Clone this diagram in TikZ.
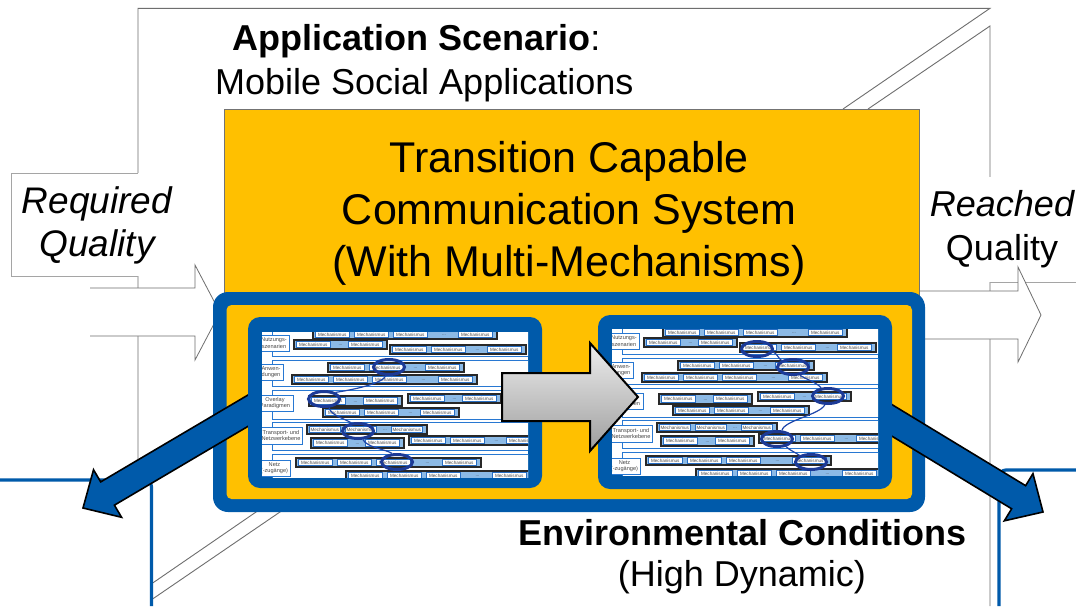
\documentclass[tikz,border=0pt]{standalone}
\usepackage{fontspec}
\setmainfont{Liberation Sans}
\usetikzlibrary{calc,shapes.geometric}

\definecolor{frameblue}{RGB}{0,90,170}
\definecolor{sysyellow}{RGB}{255,192,0}
\definecolor{ringblue}{RGB}{28,58,150}
\definecolor{linkblue}{RGB}{30,70,170}
\definecolor{cellblue}{RGB}{140,186,230}
\definecolor{cellline}{RGB}{40,110,195}
\definecolor{grpline}{RGB}{40,40,40}
\definecolor{bandline}{RGB}{40,120,210}
\definecolor{celltext}{RGB}{70,70,70}
\definecolor{backgray}{RGB}{110,110,110}
\definecolor{callgray}{RGB}{165,165,165}

\tikzset{
  backline/.style={draw=backgray, line width=0.9pt},
  calloutline/.style={draw=callgray, line width=0.8pt},
  arrowline/.style={draw=backgray, line width=0.8pt, line join=miter},
  thinblue/.style={draw=frameblue, line width=3.2pt},
  bigarrow/.style={fill=frameblue, draw=black, line width=1.6pt, line join=miter},
  grp/.style={fill=cellblue, draw=grpline, line width=1.2pt},
  mcell/.style={fill=white, draw=cellline, line width=0.6pt},
  mtext/.style={font=\fontsize{4.6}{5}\selectfont, text=celltext, inner sep=0pt},
  bandbox/.style={fill=white, draw=bandline, line width=0.9pt},
  lbox/.style={fill=white, draw=bandline, line width=0.9pt},
  ltext/.style={font=\fontsize{5.6}{6.6}\selectfont, text=celltext, align=center, inner sep=0pt},
  ring/.style={ellipse, draw=ringblue, line width=3pt, minimum width=31pt, minimum height=15pt, inner sep=0pt},
  link/.style={draw=linkblue, line width=1.2pt},
  grayarrow/.style={draw=black, line width=2pt, top color=white!93!black, bottom color=black!38, line join=miter},
  labeltext/.style={font=\fontsize{36}{43}\selectfont, inner sep=0pt},
  titletext/.style={font=\fontsize{43}{52}\selectfont, inner sep=0pt},
}

% one group of mechanism cells: x0, y0, y1, cell width, dots width, item list
\newcommand\mgrp[6]{%
  \xdef\gcur{\number\numexpr#1+2\relax}%
  \foreach \itm in {#6}{%
    \if\itm M\xdef\gcur{\number\numexpr\gcur+#4+2\relax}%
    \else\xdef\gcur{\number\numexpr\gcur+#5+2\relax}\fi
  }%
  \path[grp] (#1,#2) rectangle (\gcur,#3);
  \xdef\gcur{\number\numexpr#1+2\relax}%
  \foreach \itm in {#6}{%
    \if\itm M%
      \path[mcell] (\gcur+0.5,#2+1.5) rectangle (\gcur+#4-3,#3-1.5);%
      \node[mtext] (\tprefix m\gcur y#2) at ({\gcur+(#4-2.5)/2},{(#2+#3)/2}) {Mechanismus};%
      \xdef\gcur{\number\numexpr\gcur+#4+2\relax}%
    \else
      \node[mtext] (\tprefix d\gcur y#2) at ({\gcur+#5/2},{(#2+#3)/2+1}) {...};%
      \xdef\gcur{\number\numexpr\gcur+#5+2\relax}%
    \fi
  }%
}

% one layer band with its label box: y0, y1, label right, label y0, label y1, text x, text y, text
\newcommand\mband[8]{%
  \path[bandbox] (10,#1) rectangle (300,#2);
  \path[lbox] (-10,#4) rectangle (#3,#5);
  \node[ltext] (\tprefix lb#4) at (#6,#7) {#8};
}

% the layered mechanism table
\newcommand\mechtable{%
  \mband{-6}{24}{27}{3}{19}{12}{11}{Nutzungs-\\szenarien}
  \mband{28}{54}{21}{32}{48}{9}{40}{Anwen-\\dungen}
  \mband{58}{87}{31}{63}{79}{13}{71}{Overlay\\Paradigmen}
  \mband{90}{118}{40}{95}{112}{19}{103.5}{Transport- und\\Netzwerkebene}
  \mband{122}{160}{28}{128}{144}{12.5}{136}{Netz\\(-zugänge)}
  \mgrp{51}{-2}{7}{37}{24}{M,M,M,D,M}
  \mgrp{32}{8}{17}{37}{11}{M,D,M}
  \mgrp{128}{13}{22}{37}{15}{M,M,D,M}
  \mgrp{66}{31}{40}{37}{15}{M,M,D,M}
  \mgrp{30}{43}{52}{37}{25}{M,M,M,D,M}
  \mgrp{47}{64}{74}{37}{11}{M,D,M}
  \mgrp{146}{62}{71}{37}{11}{M,D,M}
  \mgrp{61}{76}{85}{37}{15}{M,M,D,M}
  \mgrp{45}{93}{102}{34}{8}{M,M,D,M}
  \mgrp{49}{106}{116}{37}{11}{M,D,M}
  \mgrp{147}{104}{113}{37}{15}{M,M,D,M}
  \mgrp{34}{126}{135}{37}{25}{M,M,M,D,M}
  \mgrp{84}{139}{148}{37}{25}{M,M,M,D,M}
}

% thick blue block arrow from a start point to a tip
\newcommand\bluearrow[3]{%
  \coordinate (#3-s) at #1;
  \coordinate (#3-t) at #2;
  \coordinate (#3-b) at ($(#3-t)!28.5pt!(#3-s)$);
  \path[bigarrow] ($(#3-s)!13.5pt!90:(#3-t)$) -- ($(#3-b)!13.5pt!90:(#3-t)$)
    -- ($(#3-b)!27.6pt!90:(#3-t)$) -- (#3-t) -- ($(#3-b)!27.6pt!-90:(#3-t)$)
    -- ($(#3-b)!13.5pt!-90:(#3-t)$) -- ($(#3-s)!13.5pt!-90:(#3-t)$) -- cycle;
}

\begin{document}
\begin{tikzpicture}[x=1pt,y=-1pt]
\useasboundingbox (0,0) rectangle (1076,606);
\fill[white] (0,0) rectangle (1076,606);

% perspective box behind the system
\draw[backline] (138,482) -- (138,8.3) -- (990,8.3) -- (843,109);
\draw[backline] (868,109) -- (990,26) -- (990,606);
\draw[backline] (270,502.4) -- (153,582.8);
\draw[backline] (294,502.4) -- (153,598.7);

% neighbouring blue frames
\draw[thinblue, rounded corners=7] (0,480) -| (151.5,606);
\draw[thinblue, rounded corners=7] (1076,470) -| (999,606);

% quality callouts
\fill[white] (11.7,173) rectangle (215,276);
\draw[calloutline] (138,173) -- (11.7,173) -- (11.7,276) -- (138,276);
\fill[white] (919,177) rectangle (1076,282);
\draw[calloutline] (990,282) -- (1076,282);

% white input / output arrows
\fill[white] (90,288) -- (195,288) -- (195,265) -- (220,312.5) -- (195,360) -- (195,336) -- (90,336) -- cycle;
\draw[arrowline] (90,288) -- (195,288) -- (195,265) -- (220,312.5) -- (195,360) -- (195,336) -- (90,336);
\fill[white] (900,291) -- (1018,291) -- (1018,267) -- (1041,315) -- (1018,362) -- (1018,339) -- (900,339) -- cycle;
\draw[arrowline] (900,291) -- (1018,291) -- (1018,267) -- (1041,315) -- (1018,362) -- (1018,339) -- (900,339);

% system box
\draw[fill=sysyellow, draw=black!55, line width=0.8pt] (224,109) rectangle (919,300);
\fill[frameblue, rounded corners=15] (213,292) rectangle (925,512);
\fill[sysyellow, rounded corners=5] (226.5,305) rectangle (912,499);

% environment arrows
\bluearrow{(300,380)}{(83,508)}{envl}
\bluearrow{(860,401)}{(1043,512)}{envr}

% left configuration
\fill[frameblue, rounded corners=12] (248,317) rectangle (542,488);
\fill[white] (262,332) rectangle (528,477);
\begin{scope}
  \clip (262,332) rectangle (528,477);
  \begin{scope}[shift={(262,332)}]
    \def\tprefix{L}
    \mechtable
  \end{scope}
\end{scope}
\node[ring] (L1) at (389,367) {};
\node[ring] (L2) at (324,399) {};
\node[ring] (L3) at (358,431) {};
\node[ring] (L4) at (397,462) {};
\draw[link] (L1.250) .. controls +(-3,8) and +(14,-2) .. (L2.30);
\draw[link] (L2.300) .. controls +(2,8) and +(-6,-4) .. (L3.130);
\draw[link] (L3.300) .. controls +(4,8) and +(-6,-4) .. (L4.120);

% right configuration
\fill[frameblue, rounded corners=12] (598,315) rectangle (892,489);
\fill[white] (612,329) rectangle (878,475);
\begin{scope}
  \clip (612,329) rectangle (878,475);
  \begin{scope}[shift={(612,330)}]
    \def\tprefix{R}
    \mechtable
  \end{scope}
\end{scope}
\node[ring] (R1) at (757,349) {};
\node[ring] (R2) at (793,367) {};
\node[ring] (R3) at (828,396) {};
\node[ring] (R4) at (777,439) {};
\node[ring] (R5) at (811,462) {};
\draw[link] (R1.350) .. controls +(5,3) and +(-4,-3) .. (R2.150);
\draw[link] (R2.310) .. controls +(6,4) and +(-4,-5) .. (R3.130);
\draw[link] (R3.250) .. controls +(-5,10) and +(2,-10) .. (R4.60);
\draw[link] (R4.320) .. controls +(4,4) and +(-4,-3) .. (R5.150);

% transition arrow
\path[grayarrow] (502,373) -- (590,373) -- (590,343) -- (638,397) -- (590,451) -- (590,421) -- (502,421) -- cycle;

% texts
\node[labeltext, anchor=base west] (app) at (232,50) {\bfseries Application Scenario\mdseries:};
\node[labeltext, anchor=base west] (mob) at (215,94) {Mobile Social Applications};
\node[titletext, anchor=base] (tt1) at (569,172) {Transition Capable};
\node[titletext, anchor=base] (tt2) at (569,224) {Communication System};
\node[titletext, anchor=base] (tt3) at (569,276) {(With Multi-Mechanisms)};
\node[labeltext, anchor=base, font=\fontsize{37}{43}\selectfont\itshape] (req1) at (97,213.5) {Required};
\node[labeltext, anchor=base, font=\fontsize{37}{43}\selectfont\itshape] (req2) at (97,256.5) {Quality};
\node[labeltext, anchor=base, font=\fontsize{36}{43}\selectfont\itshape] (rea1) at (1002,216) {Reached};
\node[labeltext, anchor=base] (rea2) at (1002,260) {Quality};
\node[labeltext, anchor=base, font=\fontsize{36}{43}\selectfont\bfseries] (env1) at (742,545) {Environmental Conditions};
\node[labeltext, anchor=base] (env2) at (742,586) {(High Dynamic)};
\end{tikzpicture}
\end{document}
